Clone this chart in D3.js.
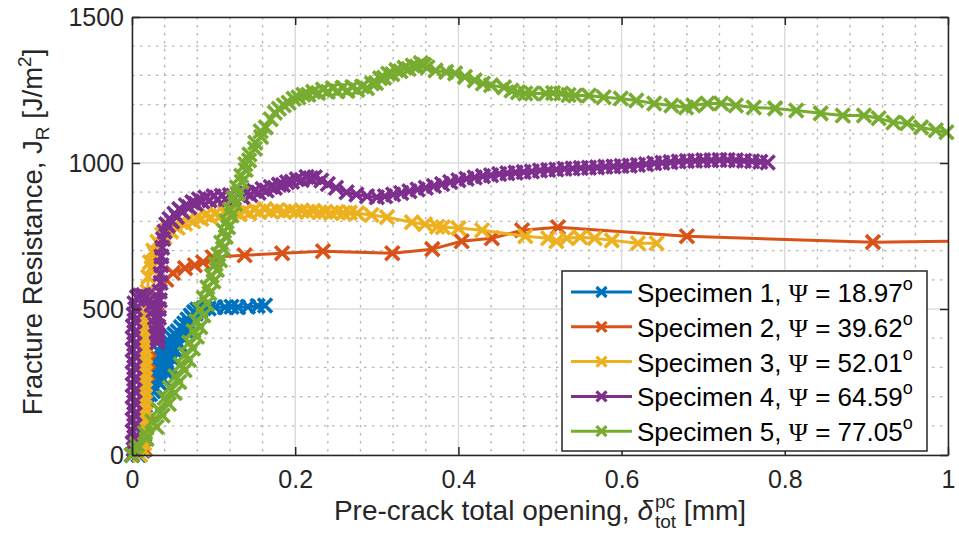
<!DOCTYPE html>
<html>
<head>
<meta charset="utf-8">
<script src="https://cdn.jsdelivr.net/npm/d3@7"></script>
<style>
body{margin:0;background:#fff;}
svg text{font-family:"Liberation Sans",Arial,Helvetica,sans-serif;white-space:pre;}
</style>
</head>
<body>
<div id="chart"></div>
<script>
// ---- data ----
var specimenNames = ["Specimen 1", "Specimen 2", "Specimen 3", "Specimen 4", "Specimen 5"];
var psiValues = ["18.97", "39.62", "52.01", "64.59", "77.05"];
var seriesColors = ["#0072BD", "#D95319", "#EDB120", "#7E2F8E", "#77AC30"];
var xTicks = [0, 0.2, 0.4, 0.6, 0.8, 1];
var xTickLabels = ["0", "0.2", "0.4", "0.6", "0.8", "1"];
var yTicks = [0, 500, 1000, 1500];
var yTickLabels = ["0", "500", "1000", "1500"];

// opening [mm], J_R [J/m2]
var spec1 = [[0,0],[0.008,0],[0.013,15],[0.014,40],[0.015,70],[0.015,100],[0.016,130],[0.016,160],
  [0.017,185],[0.018,205],[0.020,265],[0.022,208],[0.024,290],[0.026,218],[0.028,325],[0.030,228],
  [0.032,358],[0.034,245],[0.036,370],[0.038,260],[0.040,384],[0.042,283],[0.044,393],[0.046,305],
  [0.048,404],[0.050,328],[0.052,414],[0.054,354],[0.056,424],[0.058,378],[0.060,438],[0.062,402],
  [0.064,450],[0.066,425],[0.068,464],[0.070,448],[0.072,478],[0.074,470],[0.076,490],[0.078,484],
  [0.080,498],[0.084,496],[0.088,503],[0.094,502],[0.102,506],[0.114,506],[0.122,508],[0.130,506],
  [0.142,508],[0.154,510],[0.163,512]];

var spec2 = [[0,0],[0.016,20],[0.018,150],[0.019,280],[0.020,320],[0.021,360],[0.030,520],[0.042,600],
  [0.050,623],[0.065,640],[0.077,650],[0.087,660],[0.099,677],[0.138,684],[0.184,691],[0.234,698],
  [0.319,691],[0.368,705],[0.404,732],[0.441,742],[0.478,770],[0.522,780],[0.680,749],[0.908,729],
  [1.03,733]];

var spec3 = [[0,0],[0.010,0],[0.013,20],[0.015,40],[0.016,60],[0.016,80],[0.016,100],[0.016,120],
  [0.016,140],[0.016,160],[0.016,180],[0.016,200],[0.016,220],[0.016,240],[0.016,260],[0.016,280],
  [0.016,300],[0.016,320],[0.016,340],[0.016,360],[0.016,380],[0.016,400],[0.017,420],[0.017,440],
  [0.017,460],[0.017,480],[0.018,500],[0.018,530],[0.019,560],[0.020,610],[0.022,660],[0.024,640],
  [0.026,700],[0.028,690],[0.031,730],[0.034,720],[0.037,755],[0.040,745],[0.044,772],[0.048,765],
  [0.052,786],[0.056,778],[0.060,798],[0.065,792],[0.070,808],[0.075,800],[0.080,815],[0.085,808],
  [0.090,822],[0.096,814],[0.102,826],[0.108,818],[0.114,830],[0.120,822],[0.126,833],[0.132,825],
  [0.138,836],[0.144,828],[0.150,840],[0.156,832],[0.163,842],[0.170,834],[0.178,838],[0.186,833],
  [0.194,837],[0.201,833],[0.208,837],[0.215,833],[0.222,836],[0.230,831],[0.237,833],[0.244,829],
  [0.251,832],[0.259,829],[0.267,830],[0.276,828],[0.2935,822],[0.3125,814],[0.343,797],[0.359,790],
  [0.374,782],[0.381,780],[0.400,777],[0.429,770],[0.482,749],[0.510,742],[0.520,732],[0.533,742],
  [0.549,746],[0.567,742],[0.588,735],[0.620,725],[0.643,725]];

var spec4 = [[0,0],[0.002,20],[0.001,40],[0.003,60],[0.001,80],[0.003,100],[0.001,120],[0.003,140],
  [0.001,160],[0.003,180],[0.001,200],[0.003,220],[0.001,240],[0.003,260],[0.001,280],[0.003,300],
  [0.001,320],[0.003,340],[0.001,360],[0.003,380],[0.001,400],[0.003,420],[0.001,440],[0.003,460],
  [0.002,480],[0.004,500],[0.003,520],[0.006,540],[0.010,546],[0.014,548],[0.018,542],[0.021,532],
  [0.024,515],[0.026,495],[0.028,470],[0.029,445],[0.030,420],[0.031,400],[0.031,385],[0.032,410],
  [0.032,440],[0.033,470],[0.033,500],[0.034,530],[0.034,560],[0.035,590],[0.035,620],[0.036,650],
  [0.036,680],[0.037,710],[0.038,740],[0.040,765],[0.042,790],[0.044,785],[0.046,808],[0.049,800],
  [0.052,826],[0.055,815],[0.058,842],[0.062,832],[0.066,855],[0.070,848],[0.074,866],[0.078,860],
  [0.082,876],[0.086,868],[0.090,882],[0.095,872],[0.100,886],[0.105,875],[0.110,888],[0.115,877],
  [0.120,890],[0.125,880],[0.130,893],[0.135,884],[0.140,898],[0.145,890],[0.150,904],[0.155,898],
  [0.160,911],[0.165,906],[0.170,918],[0.175,915],[0.180,926],[0.185,925],[0.190,934],[0.196,936],
  [0.202,944],[0.208,942],[0.214,952],[0.219,948],[0.224,951],[0.232,940],[0.240,928],[0.250,915],
  [0.263,900],[0.275,892],[0.288,886],[0.300,883],[0.310,886],[0.320,892],[0.330,897],[0.340,903],
  [0.350,909],[0.360,915],[0.370,921],[0.380,928],[0.390,935],[0.400,941],[0.410,946],[0.420,950],
  [0.430,955],[0.440,958],[0.450,962],[0.460,965],[0.470,967],[0.480,969],[0.490,971],[0.500,974],
  [0.510,976],[0.520,978],[0.530,980],[0.540,981],[0.550,983],[0.560,984],[0.570,985],[0.580,987],
  [0.590,988],[0.600,990],[0.610,991],[0.620,993],[0.630,996],[0.640,999],[0.650,1001],[0.660,1003],
  [0.670,1005],[0.680,1007],[0.690,1008],[0.700,1009],[0.710,1009],[0.720,1010],[0.730,1010],
  [0.740,1009],[0.750,1008],[0.760,1006],[0.770,1004],[0.779,1002]];

var spec5 = [[0,0],[0.0052,17],[0.0062,35],[0.0178,55],[0.0158,75],[0.0302,96],[0.0248,115],
  [0.0376,135],[0.0324,155],[0.0452,175],[0.0400,195],[0.0523,212],[0.0462,230],[0.0580,250],
  [0.0532,270],[0.0645,290],[0.0598,310],[0.0697,325],[0.0652,345],[0.0747,365],[0.0702,385],
  [0.0797,405],[0.0752,425],[0.0838,438],[0.0789,458],[0.0875,478],[0.0836,498],[0.0917,518],
  [0.0878,538],[0.0950,554],[0.0924,574],[0.0998,594],[0.0977,614],[0.1041,634],[0.1024,654],
  [0.1080,667],[0.1057,687],[0.1115,707],[0.1092,727],[0.1149,747],[0.1127,767],[0.1178,780],
  [0.1159,800],[0.1220,820],[0.1201,840],[0.1262,860],[0.1243,880],[0.1300,896],[0.1285,916],
  [0.1345,936],[0.1339,956],[0.1394,976],[0.1389,996],[0.1435,1009],[0.1440,1029],[0.1506,1049],
  [0.1511,1069],[0.1582,1089],[0.1577,1109],[0.1640,1122],[0.170,1150],[0.175,1172],[0.180,1186],
  [0.186,1198],[0.192,1206],[0.198,1220],[0.204,1224],[0.210,1234],[0.216,1234],[0.222,1244],
  [0.228,1240],[0.234,1252],[0.240,1244],[0.246,1256],[0.252,1246],[0.258,1258],[0.264,1247],
  [0.270,1260],[0.276,1250],[0.282,1262],[0.288,1256],[0.294,1272],[0.299,1274],[0.304,1290],
  [0.309,1292],[0.314,1306],[0.319,1304],[0.324,1318],[0.329,1314],[0.334,1326],[0.339,1322],
  [0.344,1334],[0.349,1330],[0.354,1342],[0.358,1336],[0.362,1328],[0.372,1317],[0.385,1312],
  [0.396,1307],[0.408,1295],[0.420,1283],[0.430,1272],[0.440,1266],[0.456,1259],[0.465,1248],
  [0.473,1242],[0.482,1238],[0.490,1238],[0.507,1238],[0.516,1240],[0.526,1238],[0.535,1233],
  [0.543,1231],[0.560,1231],[0.578,1225],[0.599,1221],[0.618,1214],[0.640,1204],[0.661,1197],
  [0.679,1190],[0.688,1197],[0.705,1204],[0.722,1204],[0.740,1197],[0.762,1190],[0.788,1187],
  [0.814,1180],[0.844,1170],[0.871,1163],[0.897,1163],[0.915,1153],[0.933,1139],[0.950,1136],
  [0.967,1122],[0.985,1112],[0.998,1105]];

var allSeries = [spec1, spec2, spec3, spec4, spec5];

// ---- layout ----
var W = 959, H = 536;
var plot = {left: 132, right: 948, top: 17, bottom: 455};
var axisColor = "#262626";

var x = d3.scaleLinear().domain([0, 1]).range([plot.left, plot.right]);
var y = d3.scaleLinear().domain([0, 1500]).range([plot.bottom, plot.top]);

var svg = d3.select("#chart").append("svg")
    .attr("width", W).attr("height", H);

svg.append("defs").append("clipPath").attr("id", "plotclip")
  .append("rect")
    .attr("x", plot.left).attr("y", plot.top)
    .attr("width", plot.right - plot.left).attr("height", plot.bottom - plot.top);

// minor grid (dotted)
var xMinor = d3.range(0, 1.0001, 0.04).filter(function(v){ return Math.abs(v/0.2 - Math.round(v/0.2)) > 1e-6; });
var yMinor = d3.range(0, 1500.1, 100).filter(function(v){ return v % 500 !== 0; });
var grid = svg.append("g");
grid.selectAll(".vminor").data(xMinor).enter().append("line")
    .attr("x1", function(d){ return x(d); }).attr("x2", function(d){ return x(d); })
    .attr("y1", plot.top).attr("y2", plot.bottom)
    .attr("stroke", "#b4b4b4").attr("stroke-width", 1.3).attr("stroke-dasharray", "2.5,5.5");
grid.selectAll(".hminor").data(yMinor).enter().append("line")
    .attr("y1", function(d){ return y(d); }).attr("y2", function(d){ return y(d); })
    .attr("x1", plot.left).attr("x2", plot.right)
    .attr("stroke", "#b4b4b4").attr("stroke-width", 1.3).attr("stroke-dasharray", "2.5,5.5");
// major grid
grid.selectAll(".vmajor").data(xTicks).enter().append("line")
    .attr("x1", function(d){ return x(d); }).attr("x2", function(d){ return x(d); })
    .attr("y1", plot.top).attr("y2", plot.bottom)
    .attr("stroke", "#dcdcdc").attr("stroke-width", 1.5);
grid.selectAll(".hmajor").data(yTicks).enter().append("line")
    .attr("y1", function(d){ return y(d); }).attr("y2", function(d){ return y(d); })
    .attr("x1", plot.left).attr("x2", plot.right)
    .attr("stroke", "#dcdcdc").attr("stroke-width", 1.5);

// series
var line = d3.line()
    .x(function(d){ return x(d[0]); })
    .y(function(d){ return y(d[1]); });
var markerPath = "M-7,-7L7,7M-7,7L7,-7";

allSeries.forEach(function(data, i){
    var g = svg.append("g");
    g.append("path")
        .attr("d", line(data))
        .attr("clip-path", "url(#plotclip)")
        .attr("fill", "none")
        .attr("stroke", seriesColors[i])
        .attr("stroke-width", 3)
        .attr("stroke-linejoin", "round");
    g.selectAll("path.mk")
        .data(data.filter(function(d){ return d[0] <= 1; }))
        .enter().append("path")
        .attr("class", "mk")
        .attr("d", markerPath)
        .attr("transform", function(d){ return "translate(" + x(d[0]) + "," + y(d[1]) + ")"; })
        .attr("fill", "none")
        .attr("stroke", seriesColors[i])
        .attr("stroke-width", 3.6);
});

// axes with inward ticks
function styleAxis(sel){
    sel.attr("font-size", 25).attr("font-family", "'Liberation Sans', Arial, sans-serif");
    sel.select(".domain").attr("stroke", axisColor).attr("stroke-width", 1.5);
    sel.selectAll(".tick line").attr("stroke", axisColor).attr("stroke-width", 1.5);
    sel.selectAll(".tick text").attr("fill", axisColor);
}
var xAxis = d3.axisBottom(x).tickValues(xTicks)
    .tickFormat(function(d, i){ return xTickLabels[i]; })
    .tickSizeInner(-8).tickSizeOuter(0).tickPadding(15);
svg.append("g").attr("transform", "translate(0," + plot.bottom + ")").call(xAxis).call(styleAxis);

var yAxis = d3.axisLeft(y).tickValues(yTicks)
    .tickFormat(function(d, i){ return yTickLabels[i]; })
    .tickSizeInner(-8).tickSizeOuter(0).tickPadding(8);
svg.append("g").attr("transform", "translate(" + plot.left + ",0)").call(yAxis).call(styleAxis);

svg.append("g").attr("transform", "translate(0," + plot.top + ")")
    .call(d3.axisTop(x).tickValues(xTicks).tickFormat("").tickSizeInner(-8).tickSizeOuter(0))
    .call(styleAxis);
svg.append("g").attr("transform", "translate(" + plot.right + ",0)")
    .call(d3.axisRight(y).tickValues(yTicks).tickFormat("").tickSizeInner(-8).tickSizeOuter(0))
    .call(styleAxis);

// y label
var ylab = svg.append("text")
    .attr("transform", "translate(42,232) rotate(-90)")
    .attr("text-anchor", "middle")
    .attr("font-size", 27.5)
    .attr("fill", axisColor);
ylab.append("tspan").text("Fracture Resistance, J");
ylab.append("tspan").attr("font-size", 19).attr("dy", 7).text("R");
ylab.append("tspan").attr("dy", -7).text(" [J/m");
ylab.append("tspan").attr("font-size", 19).attr("dy", -11).text("2");
ylab.append("tspan").attr("dy", 11).text("]");

// x label, pieces laid out by measured width
var xl = svg.append("g").attr("fill", axisColor);
var base = 520;
var p1 = xl.append("text").attr("font-size", 28).attr("y", base).text("Pre-crack total opening, ");
var p2 = xl.append("text").attr("font-size", 28).attr("y", base)
    .attr("font-family", "'Liberation Serif', serif").attr("font-style", "italic").text("\u03B4");
var p3 = xl.append("text").attr("font-size", 19).attr("y", base - 12).text("pc");
var p4 = xl.append("text").attr("font-size", 19).attr("y", base + 8).text("tot");
var p5 = xl.append("text").attr("font-size", 28).attr("y", base).text(" [mm]");
var w1 = p1.node().getComputedTextLength(), w2 = p2.node().getComputedTextLength() + 2;
var w34 = Math.max(p3.node().getComputedTextLength(), p4.node().getComputedTextLength());
var w5 = p5.node().getComputedTextLength();
var x0 = 540 - (w1 + w2 + w34 + w5) / 2;
p1.attr("x", x0);
p2.attr("x", x0 + w1);
p3.attr("x", x0 + w1 + w2);
p4.attr("x", x0 + w1 + w2);
p5.attr("x", x0 + w1 + w2 + w34);

// legend
var lg = svg.append("g");
lg.append("rect")
    .attr("x", 562).attr("y", 271).attr("width", 365).attr("height", 180)
    .attr("fill", "#fff").attr("stroke", axisColor).attr("stroke-width", 1.5);
specimenNames.forEach(function(name, i){
    var ly = 292 + i * 34.8;
    lg.append("line").attr("x1", 571).attr("x2", 632).attr("y1", ly).attr("y2", ly)
        .attr("stroke", seriesColors[i]).attr("stroke-width", 3);
    lg.append("path").attr("d", "M-5,-5L5,5M-5,5L5,-5")
        .attr("transform", "translate(601.5," + ly + ")")
        .attr("fill", "none").attr("stroke", seriesColors[i]).attr("stroke-width", 3.2);
    var t = lg.append("text").attr("x", 637).attr("y", ly + 10).attr("font-size", 26).attr("fill", "#000");
    t.append("tspan").text(name + ", ");
    t.append("tspan").attr("font-family", "'Liberation Serif', serif").text("\u03A8");
    t.append("tspan").text(" = " + psiValues[i]);
    t.append("tspan").attr("font-size", 18).attr("dy", -12).text("o");
});
</script>
</body>
</html>
